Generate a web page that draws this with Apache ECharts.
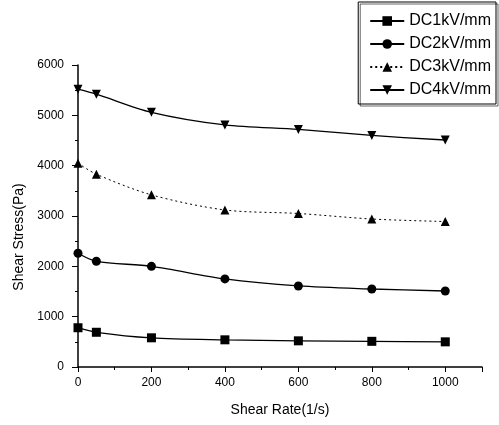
<!DOCTYPE html>
<html>
<head>
<meta charset="utf-8">
<script src="https://cdn.jsdelivr.net/npm/echarts@6/dist/echarts.min.js"></script>
<style>
html,body{margin:0;padding:0;background:#fff;}
#main{width:499px;height:425px;}
</style>
</head>
<body>
<div id="main"></div>
<script>
	// 数据
	var shearRate = [0, 50, 200, 400, 600, 800, 1000];
	var dc1 = [780, 690, 580, 540, 520, 510, 500];
	var dc2 = [2260, 2100, 2000, 1750, 1610, 1550, 1510];
	var dc3 = [4050, 3830, 3420, 3120, 3050, 2940, 2890];
	var dc4 = [5520, 5420, 5060, 4810, 4720, 4600, 4510];
	var names = ['DC1kV/mm', 'DC2kV/mm', 'DC3kV/mm', 'DC4kV/mm'];

	function pairs(ys){
		var out = [];
		for (var i = 0; i < shearRate.length; i++) out.push([shearRate[i], ys[i]]);
		return out;
	}

	function mkSeries(name, ys, symbol, rotate, dash){
		return {
			name: name, type: 'line', data: pairs(ys), smooth: 0.3,
			symbol: symbol, symbolSize: 9, symbolRotate: rotate,
			itemStyle: {color: '#000'},
			lineStyle: {color: '#000', width: dash ? 1 : 1.3, type: dash ? [2, 3] : 'solid'}
		};
	}

	var font = '"Liberation Sans", Arial, sans-serif';
	var plain = function(v){ return String(v); };
	var myChart = echarts.init(document.getElementById('main'));
	option = {
		animation: false,
		backgroundColor: '#fff',
		grid: {left: 78, right: 17, top: 65, bottom: 58},
		legend: {
			orient: 'vertical', right: 3, top: 2,
			padding: [11, 5, 6, 11], itemGap: 7, itemWidth: 34, itemHeight: 12,
			borderColor: '#000', borderWidth: 1,
			shadowColor: 'rgba(0,0,0,0.6)', shadowOffsetX: 2, shadowOffsetY: 2,
			textStyle: {fontFamily: font, fontSize: 16, color: '#000'},
			data: names
		},
		xAxis: {
			type: 'value', min: 0, max: 1100, interval: 200,
			name: 'Shear Rate(1/s)', nameLocation: 'middle', nameGap: 36,
			nameTextStyle: {fontFamily: font, fontSize: 14, color: '#000'},
			axisLine: {lineStyle: {color: '#000', width: 1.5}},
			axisTick: {inside: false, length: 5, lineStyle: {color: '#000'}},
			minorTick: {show: true, splitNumber: 2, length: 3, lineStyle: {color: '#000'}},
			axisLabel: {showMaxLabel: false, margin: 10, fontFamily: font, fontSize: 12, color: '#000', formatter: plain},
			splitLine: {show: false}
		},
		yAxis: {
			type: 'value', min: 0, max: 6000, interval: 1000,
			name: 'Shear Stress(Pa)', nameLocation: 'middle', nameGap: 44,
			nameTextStyle: {fontFamily: font, fontSize: 14, color: '#000', padding: [0, 42, 0, 0]},
			axisLine: {show: true, lineStyle: {color: '#000', width: 1.5}},
			axisTick: {show: true, inside: false, length: 6, lineStyle: {color: '#000'}},
			minorTick: {show: true, splitNumber: 2, length: 3, lineStyle: {color: '#000'}},
			axisLabel: {margin: 14, fontFamily: font, fontSize: 12, color: '#000', formatter: plain},
			splitLine: {show: false}
		},
		series: [
			mkSeries(names[0], dc1, 'rect', 0, false),
			mkSeries(names[1], dc2, 'circle', 0, false),
			mkSeries(names[2], dc3, 'triangle', 0, true),
			mkSeries(names[3], dc4, 'triangle', 180, false)
		]
	};
	myChart.setOption(option);
</script>
</body>
</html>
